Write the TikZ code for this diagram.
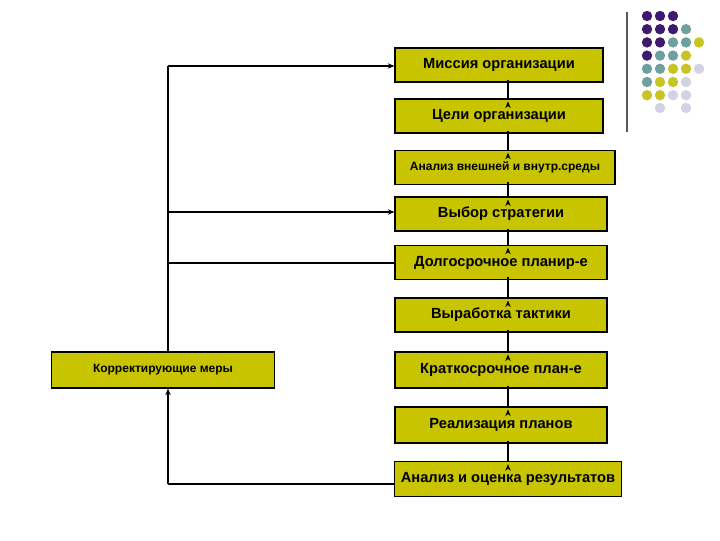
\documentclass[tikz,border=0pt]{standalone}
\usepackage{fontspec}
\setmainfont{Liberation Sans}
\usetikzlibrary{arrows.meta}
\definecolor{boxc}{HTML}{C8C400}
\definecolor{dP}{HTML}{3D1A6E}
\definecolor{dT}{HTML}{6FA0A0}
\definecolor{dY}{HTML}{C8C428}
\definecolor{dL}{HTML}{D2D2E2}
\begin{document}
\begin{tikzpicture}[x=0.75pt,y=-0.75pt,
  bx/.style={draw=black,fill=boxc,line width=0.8pt,inner sep=0pt,font=\bfseries\fontsize{11}{13}\selectfont},
  ar/.style={-{Stealth[length=5pt,width=4pt]},line width=0.8pt},
  ln/.style={line width=1pt}]
\useasboundingbox (0,0) rectangle (720,540);
\node[bx,minimum width=156pt,minimum height=25.5pt] (b1) at (499,65) {Миссия организации};
\node[bx,minimum width=156pt,minimum height=25.5pt] (b2) at (499,116) {Цели организации};
\node[bx,minimum width=165pt,minimum height=26pt,font=\bfseries\fontsize{9}{11}\selectfont] (b3) at (505,167.5) {Анализ внешней и внутр.среды};
\node[bx,minimum width=159pt,minimum height=25.5pt] (b4) at (501,214) {Выбор стратегии};
\node[bx,minimum width=159pt,minimum height=26pt] (b5) at (501,262.5) {Долгосрочное планир-е};
\node[bx,minimum width=159pt,minimum height=25.5pt] (b6) at (501,315) {Выработка тактики};
\node[bx,minimum width=159pt,minimum height=27pt] (b7) at (501,370) {Краткосрочное план-е};
\node[bx,minimum width=159pt,minimum height=27pt] (b8) at (501,425) {Реализация планов};
\node[bx,minimum width=170pt,minimum height=26pt] (b9) at (508,479) {Анализ и оценка результатов};
\node[bx,minimum width=167pt,minimum height=27pt,font=\bfseries\fontsize{9}{11}\selectfont] (k) at (163,370) {Корректирующие меры};
\foreach \a/\b in {b1/b2,b2/b3,b3/b4,b4/b5,b5/b6,b6/b7,b7/b8,b8/b9}
  \draw[ar] (508,0 |- \a.south) ++(0,-3) -- (508,0 |- \b.north) ++(0,3);
\coordinate (c1) at (168,66);
\coordinate (c2) at (168,212);
\coordinate (c3) at (168,263);
\coordinate (c4) at (168,484);
\draw[ln] (k.north -| c1) -- (c1);
\draw[ar,line width=1pt] (c1) -- (c1 -| b1.west);
\draw[ar,line width=1pt] (c2) -- (c2 -| b4.west);
\draw[ln] (c3) -- (c3 -| b5.west);
\draw[ln] (c4 -| b9.west) -- (c4);
\draw[ar,line width=1pt] (c4) -- (k.south -| c4);
\coordinate (vl1) at (627,12); \coordinate (vl2) at (627,132);
\draw[line width=1pt,gray!70!black] (vl1) -- (vl2);
\foreach \row/\cols in {0/{P,P,P},1/{P,P,P,T},2/{P,P,T,T,Y},3/{P,T,T,Y},4/{T,T,Y,Y,L},5/{T,Y,Y,L},6/{Y,Y,L,L}}{
  \foreach \c [count=\i from 0] in \cols {
    \fill[d\c] (647+13*\i,16+13.2*\row) circle (5.2);
  }
}
\fill[dL] (660,108) circle (5.2);
\fill[dL] (686,108) circle (5.2);
\end{tikzpicture}
\end{document}
